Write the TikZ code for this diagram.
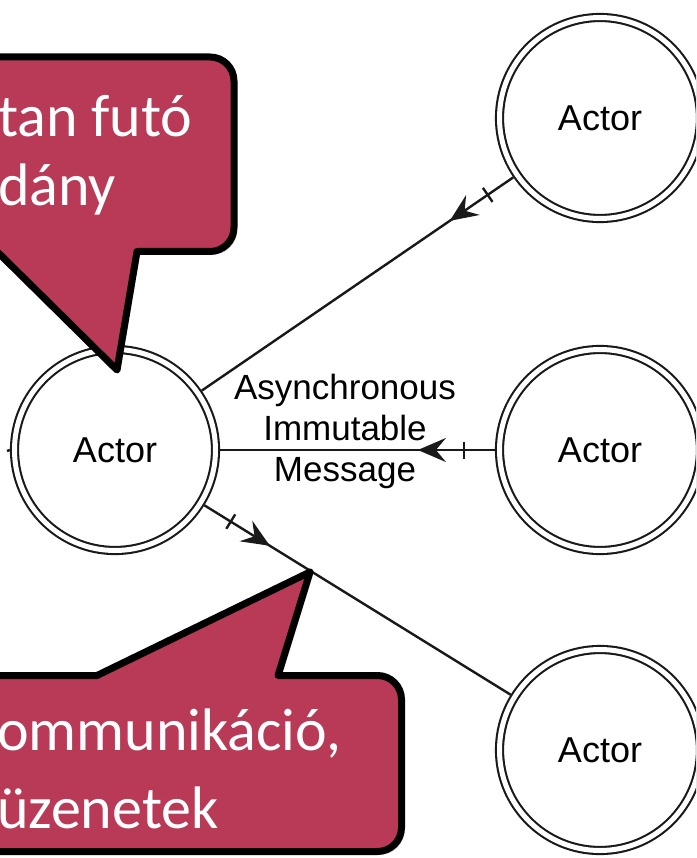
\documentclass[tikz,border=0pt]{standalone}
\usepackage{fontspec}
\newfontfamily\calloutfont{Carlito}
\newfontfamily\diagfont{Liberation Sans}
\usetikzlibrary{arrows.meta,decorations.markings}
\definecolor{calloutred}{RGB}{185,58,86}
\begin{document}
\begin{tikzpicture}[x=1pt,y=-1pt,
  actor/.style={circle,draw=black!90,double,double distance=5pt,line width=2.1pt,
    minimum size=201pt,inner sep=0pt,outer sep=4.6pt,font=\diagfont\fontsize{36}{40}\selectfont},
  msg/.style={draw=black!90,line width=2.4pt,postaction={decorate},
    decoration={markings,
      mark=at position 31pt with {\draw[line width=2.4pt] (0pt,-8.5pt) -- (0pt,8.5pt);},
      mark=at position 77pt with {\arrow{Stealth[length=28pt,width=24pt,inset=10pt]}}}},
  callout/.style={fill=calloutred,draw=black,line width=7pt,line join=round},
  calloutshadow/.style={fill=black,opacity=0.22},
  callouttext/.style={text=white,inner sep=0pt,anchor=base west,
    font=\calloutfont\fontsize{60}{70}\selectfont}]
\clip (0,0) rectangle (696,858);
\fill[white] (0,0) rectangle (696,858);

% actors
\node[actor] (L) at (115,450) {Actor};
\node[actor] (TR) at (600,118) {Actor};
\node[actor] (MR) at (600,450) {Actor};
\node[actor] (BR) at (600,750) {Actor};

% message lines: drawn from sender to receiver
\draw[msg] (TR) -- (L);
\draw[msg] (MR) -- (L);
\draw[msg] (L) -- (BR);
\coordinate (stub) at (7,451);
\draw[draw=black!90,line width=2.4pt] (stub) -- (L.west);

\node[font=\diagfont\fontsize{35}{41}\selectfont,align=center,inner sep=0pt]
  (lbl) at (345,431) {Asynchronous\\Immutable\\Message};

% upper callout
\fill[calloutshadow] [shift={(3,3)}] (-40,57) [rounded corners=24pt] -- (234,57) -- (234,251.5)
  [sharp corners] -- (137,251.5) -- (117,370) -- (-3,251.5) -- (-40,251.5) -- cycle;
\draw[callout] (-40,57) [rounded corners=24pt] -- (234,57) -- (234,251.5)
  [sharp corners] -- (137,251.5) -- (117,370) -- (-3,251.5) -- (-40,251.5) -- cycle;
\node[callouttext] (t1) at (-2,137) {tan futó};
\node[callouttext] (t2) at (-2,206) {dány};

% lower callout
\fill[calloutshadow] [shift={(3,3)}] (-40,675.5) -- (97,675.5) -- (310,572) -- (278,675.5)
  [rounded corners=24pt] -- (401.5,675.5) -- (401.5,851.5) [sharp corners] -- (-40,851.5) -- cycle;
\draw[callout] (-40,675.5) -- (97,675.5) -- (310,572) -- (278,675.5)
  [rounded corners=24pt] -- (401.5,675.5) -- (401.5,851.5) [sharp corners] -- (-40,851.5) -- cycle;
\node[callouttext] (b1) at (-3,750) {ommunikáció,};
\node[callouttext] (b2) at (-3,828) {üzenetek};
\end{tikzpicture}
\end{document}
